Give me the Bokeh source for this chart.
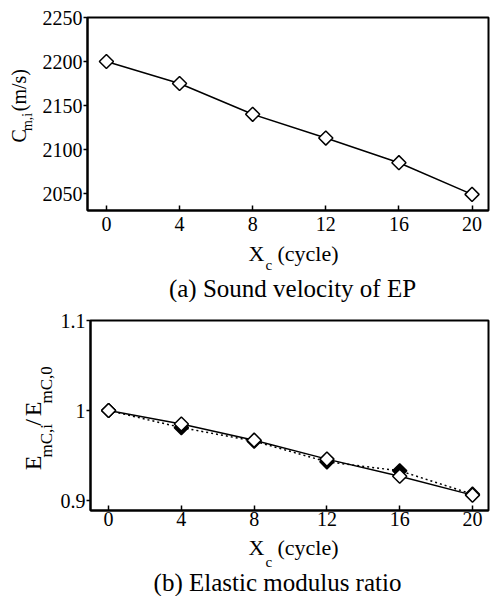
import math
from bokeh.plotting import figure
from bokeh.models import FixedTicker, Range1d
from bokeh.layouts import column, row
from bokeh.core.properties import value
from bokeh.embed import file_html
from bokeh.resources import INLINE

# ---------------- data ----------------
cycles = [0, 4, 8, 12, 16, 20]
sound_velocity = [2200, 2175, 2140, 2113, 2085, 2049]
modulus_ratio_open = [1.000, 0.985, 0.967, 0.946, 0.927, 0.906]
modulus_ratio_filled = [1.000, 0.981, 0.966, 0.943, 0.933, 0.907]
x_ticks = [0, 4, 8, 12, 16, 20]
y_ticks_a = [2050, 2100, 2150, 2200, 2250]
y_ticks_b = [0.9, 1.0, 1.1]
y_tick_labels_b = ["0.9", "1", "1.1"]
caption_a = "(a) Sound velocity of EP"
caption_b = "(b) Elastic modulus ratio"

FONT = "Liberation Serif"
MID = 0.3375  # distance from baseline to the middle of the em box, in em


def main_fig(bl, bt, br, bb, fw, fh, xr, yr, x_standoff):
    p = figure(width=bl + fw + br, height=bt + fh + bb, title=None,
               x_range=Range1d(*xr), y_range=Range1d(*yr),
               toolbar_location=None, output_backend="svg",
               min_border_left=bl, min_border_top=bt,
               min_border_right=br, min_border_bottom=bb)
    p.grid.visible = False
    p.outline_line_color = "black"
    p.outline_line_width = 2
    p.background_fill_color = "white"
    p.border_fill_color = "white"
    for ax in (p.xaxis[0], p.yaxis[0]):
        ax.axis_line_width = 2
        ax.major_tick_line_width = 1.5
        ax.minor_tick_line_color = None
        ax.axis_label_standoff = 0
        ax.major_label_text_font = FONT
        ax.major_label_text_font_size = "20px"
        ax.major_label_text_color = "black"
    p.xaxis.major_tick_in = 5
    p.xaxis.major_tick_out = 0
    p.xaxis.major_label_standoff = x_standoff
    p.yaxis.major_tick_in = 0
    p.yaxis.major_tick_out = 4
    p.yaxis.major_label_standoff = 1
    p.xaxis.ticker = FixedTicker(ticks=x_ticks)
    return p


def text_fig(w, h):
    # a plain pixel canvas (y grows downward) that only carries texts
    p = figure(width=w, height=h, title=None,
               x_range=Range1d(0, w), y_range=Range1d(h, 0),
               toolbar_location=None, output_backend="svg",
               x_axis_type=None, y_axis_type=None,
               min_border_left=0, min_border_right=0,
               min_border_top=0, min_border_bottom=0)
    p.grid.visible = False
    p.outline_line_color = None
    p.background_fill_color = "white"
    p.border_fill_color = "white"
    return p


def put(p, x, base_y, txt, size, align="left"):
    # horizontal text, base_y = wanted baseline
    p.text(x=[x], y=[base_y - MID * size], text=[txt],
           text_font=value(FONT), text_font_size=value(f"{size}px"),
           text_color="black", text_align=align, text_baseline="middle")


def put_v(p, base_x, y, txt, size):
    # text read upward, base_x = wanted baseline position
    p.text(x=[base_x - MID * size], y=[y], text=[txt], angle=math.pi / 2,
           text_font=value(FONT), text_font_size=value(f"{size}px"),
           text_color="black", text_align="left", text_baseline="middle")


def xlabel_fig(h, base, sub_drop, cap_x, cap_base, caption):
    t = text_fig(490, h)
    put(t, 248, base, "X", 22)
    put(t, 265, base + sub_drop, "c", 15)
    put(t, 277, base, "(cycle)", 22)
    put(t, cap_x, cap_base, caption, 25, align="center")
    return t


def markers(p, x, y, fill):
    p.scatter(x, y, marker="square", size=10, angle=math.pi / 4,
              fill_color=fill, line_color="black", line_width=1.5)


# ---------------- panel (a) ----------------
pa = main_fig(52, 17, 2, 30, 401, 193, (-1.035, 20.9), (2030.7, 2250), 6)
pa.yaxis.ticker = FixedTicker(ticks=y_ticks_a)
pa.line(cycles, sound_velocity, line_color="black", line_width=1.5)
markers(pa, cycles, sound_velocity, "white")

ya = text_fig(35, 240)
s = 17 + 193 / 2 + 42
put_v(ya, 25, s, "C", 20)
put_v(ya, 32, s - 14.3, "m,i", 14)
put_v(ya, 25, s - 39.0, "(m/s)", 20)

xa = xlabel_fig(62, 20, 10, 292, 56.5, caption_a)

# ---------------- panel (b) ----------------
pb = main_fig(35, 18, 2, 24, 398, 190, (-0.994, 20.88), (0.8889, 1.1), 1)
pb.yaxis.ticker = FixedTicker(ticks=y_ticks_b)
pb.yaxis.major_label_overrides = dict(zip(y_ticks_b, y_tick_labels_b))
pb.line(cycles, modulus_ratio_filled, line_color="black", line_width=1.5,
        line_dash="2 3")
pb.line(cycles, modulus_ratio_open, line_color="black", line_width=1.5)
markers(pb, cycles, modulus_ratio_filled, "black")
markers(pb, cycles, modulus_ratio_open, "white")

yb = text_fig(55, 232)
s = 18 + 190 / 2 + 10 + 60
put_v(yb, 41, s, "E", 24)
put_v(yb, 52, s - 15.7, "mC,i", 17)
put_v(yb, 41, s - 54.5, "/", 24)
put_v(yb, 41, s - 66.0, "E", 24)
put_v(yb, 52, s - 81.7, "mC,0", 17)

xb = xlabel_fig(62, 20, 13, 277, 56.5, caption_b)

layout = column(row(ya, pa), xa, row(yb, pb), xb)
open("out.html", "w").write(file_html(layout, INLINE))
